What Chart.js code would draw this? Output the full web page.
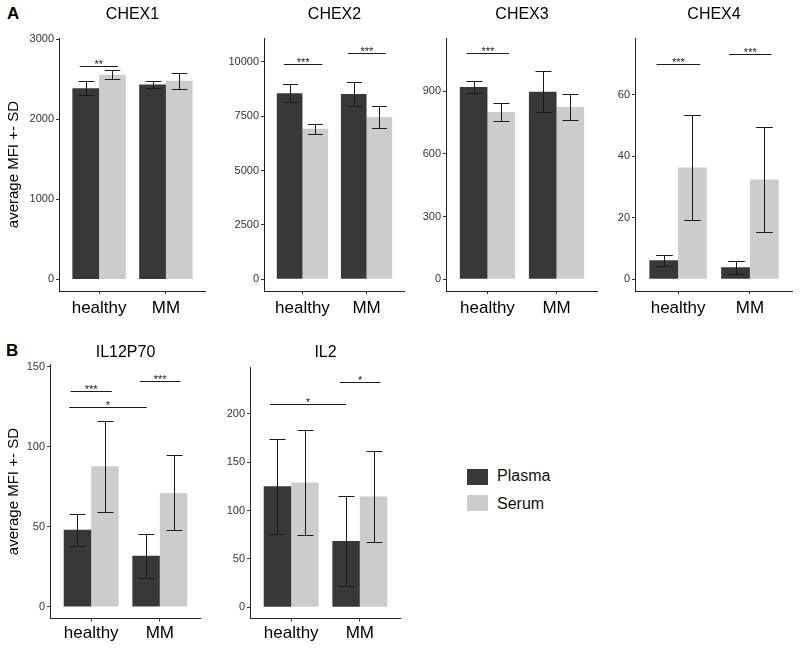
<!DOCTYPE html>
<html>
<head>
<meta charset="utf-8">
<script src="https://cdn.jsdelivr.net/npm/chart.js@4.4.1/dist/chart.umd.min.js"></script>
<style>
  body { margin: 0; background: #fff; width: 800px; height: 649px; position: relative; overflow: hidden;
         font-family: 'Liberation Sans', Arial, sans-serif; }
  canvas { position: absolute; }
  .tag { position: absolute; font-weight: bold; font-size: 17px; line-height: 17px; color: #000; }
  .key { position: absolute; width: 21px; height: 16px; }
  .lab { position: absolute; font-size: 16px; line-height: 16px; color: #111; }
</style>
</head>
<body>
<div class="tag" style="left:7px;top:5px">A</div>
<div class="tag" style="left:6px;top:342px">B</div>

<canvas id="chex1"></canvas>
<canvas id="chex2"></canvas>
<canvas id="chex3"></canvas>
<canvas id="chex4"></canvas>
<canvas id="il12p70"></canvas>
<canvas id="il2"></canvas>

<div class="key" style="left:467px;top:469px;background:#383838"></div>
<div class="lab" style="left:497px;top:468px">Plasma</div>
<div class="key" style="left:467px;top:495px;background:#cccccc"></div>
<div class="lab" style="left:497px;top:496px">Serum</div>

<script>
"use strict";
Chart.defaults.font.family = "'Liberation Sans', Arial, sans-serif";

var groups = ["healthy", "MM"];
var seriesNames = ["Plasma", "Serum"];
var yTitle = "average MFI +- SD";

/*  CHEX1  */
var chex1Plasma = [2390, 2435];
var chex1PlasmaSd = [90, 43];
var chex1Serum = [2558, 2481];
var chex1SerumSd = [56, 104];
var chex1Ticks = [0, 1000, 2000, 3000];
var chex1Sig = [{ x1: -0.29, x2: 0.28, y: 2668, label: "**" }];

/*  CHEX2  */
var chex2Plasma = [8560, 8520];
var chex2PlasmaSd = [410, 540];
var chex2Serum = [6930, 7470];
var chex2SerumSd = [230, 490];
var chex2Ticks = [0, 2500, 5000, 7500, 10000];
var chex2Sig = [{ x1: -0.29, x2: 0.31, y: 9918, label: "***" },
                { x1: 0.71, x2: 1.3, y: 10388, label: "***" }];

/*  CHEX3  */
var chex3Plasma = [920, 897];
var chex3PlasmaSd = [27, 97];
var chex3Serum = [800, 824];
var chex3SerumSd = [43, 62];
var chex3Ticks = [0, 300, 600, 900];
var chex3Sig = [{ x1: -0.3, x2: 0.31, y: 1081, label: "***" }];

/*  CHEX4  */
var chex4Plasma = [6.2, 3.9];
var chex4PlasmaSd = [1.8, 2.1];
var chex4Serum = [36.3, 32.4];
var chex4SerumSd = [16.9, 17.0];
var chex4Ticks = [0, 20, 40, 60];
var chex4Sig = [{ x1: -0.3, x2: 0.31, y: 69.9, label: "***" },
                { x1: 0.71, x2: 1.3, y: 73.2, label: "***" }];

/*  IL12P70  */
var il12Plasma = [48.3, 32];
var il12PlasmaSd = [10.1, 13.7];
var il12Serum = [88, 71.3];
var il12SerumSd = [28.5, 23.4];
var il12Ticks = [0, 50, 100, 150];
var il12Sig = [{ x1: -0.3, x2: 0.3, y: 134.8, label: "***" },
               { x1: -0.32, x2: 0.81, y: 124.8, label: "*" },
               { x1: 0.71, x2: 1.3, y: 141, label: "***" }];

/*  IL2  */
var il2Plasma = [125, 68.5];
var il2PlasmaSd = [49, 46];
var il2Serum = [129, 114.4];
var il2SerumSd = [54, 46.6];
var il2Ticks = [0, 50, 100, 150, 200];
var il2Sig = [{ x1: -0.31, x2: 0.8, y: 210.3, label: "*" },
              { x1: 0.71, x2: 1.3, y: 232.3, label: "*" }];

var plasmaColor = "#383838";
var serumColor = "#cccccc";
var lineColor = "#1a1a1a";

// error bars (mean +- sd) on every bar
var errorBars = {
  id: "errorBars",
  afterDatasetsDraw: function (chart) {
    var ctx = chart.ctx, y = chart.scales.y;
    ctx.save();
    ctx.strokeStyle = lineColor;
    ctx.lineWidth = 1;
    chart.data.datasets.forEach(function (ds, i) {
      chart.getDatasetMeta(i).data.forEach(function (bar, j) {
        var m = ds.data[j].y, s = ds.sd[j];
        var top = Math.round(y.getPixelForValue(m + s)) + 0.5;
        var bot = Math.round(y.getPixelForValue(m - s)) + 0.5;
        var cx = Math.round(bar.x) + 0.5;
        var half = bar.width * 0.29;
        ctx.beginPath();
        ctx.moveTo(cx, top); ctx.lineTo(cx, bot);
        ctx.moveTo(cx - half, top); ctx.lineTo(cx + half, top);
        ctx.moveTo(cx - half, bot); ctx.lineTo(cx + half, bot);
        ctx.stroke();
      });
    });
    ctx.restore();
  }
};

// significance lines with stars
var sigBars = {
  id: "sigBars",
  afterDatasetsDraw: function (chart, args, opts) {
    var ctx = chart.ctx, x = chart.scales.x, y = chart.scales.y;
    ctx.save();
    ctx.strokeStyle = lineColor;
    ctx.fillStyle = lineColor;
    ctx.lineWidth = 1;
    ctx.font = "11px 'Liberation Sans', Arial, sans-serif";
    ctx.textAlign = "center";
    ctx.textBaseline = "alphabetic";
    (opts.items || []).forEach(function (b) {
      var x1 = x.getPixelForValue(b.x1), x2 = x.getPixelForValue(b.x2);
      var yy = Math.round(y.getPixelForValue(b.y)) + 0.5;
      ctx.beginPath();
      ctx.moveTo(x1, yy); ctx.lineTo(x2, yy);
      ctx.stroke();
      ctx.fillText(b.label, (x1 + x2) / 2, yy + 1);
    });
    ctx.restore();
  }
};

function makePanel(id, f, p) {
  var cv = document.getElementById(id);
  var w = f.plotRight - f.left, h = f.height;
  cv.width = w; cv.height = h;
  cv.style.left = f.left + "px"; cv.style.top = f.top + "px";
  cv.style.width = w + "px"; cv.style.height = h + "px";
  var tPadTop = f.titleY - f.top - 9;
  var tPadBottom = f.plotTop - f.top - 18 - tPadTop;
  var axisGrid = { display: true, drawOnChartArea: false, drawTicks: true, tickLength: 3, color: "#333", offset: false };
  var axisBorder = { display: true, color: "#222", width: 1 };

  return new Chart(cv, {
    type: "bar",
    data: {
      datasets: [{
        label: seriesNames[0],
        data: groups.map(function (g, i) { return { x: i, y: p.plasma[i] }; }),
        sd: p.plasmaSd,
        backgroundColor: plasmaColor,
        borderWidth: 0,
        categoryPercentage: 0.8,
        barPercentage: 1
      }, {
        label: seriesNames[1],
        data: groups.map(function (g, i) { return { x: i, y: p.serum[i] }; }),
        sd: p.serumSd,
        backgroundColor: serumColor,
        borderWidth: 0,
        categoryPercentage: 0.8,
        barPercentage: 1
      }]
    },
    options: {
      responsive: false,
      animation: false,
      devicePixelRatio: 1,
      layout: { padding: 0 },
      plugins: {
        legend: { display: false },
        tooltip: { enabled: false },
        title: {
          display: true, text: p.title, fullSize: false, color: "#000",
          font: { size: 16, weight: "normal" },
          padding: { top: tPadTop, bottom: tPadBottom }
        },
        sigBars: { items: p.sig }
      },
      scales: {
        x: {
          type: "linear", min: -0.6, max: 1.6, offset: false,
          afterBuildTicks: function (s) { s.ticks = groups.map(function (g, i) { return { value: i }; }); },
          afterFit: function (s) { s.height = f.top + f.height - f.plotBottom; },
          ticks: {
            callback: function (v) { return groups[v]; },
            color: "#000", font: { size: 17 }, padding: f.xPad, autoSkip: false, maxRotation: 0
          },
          grid: axisGrid,
          border: axisBorder
        },
        y: {
          min: p.yMin, max: p.yMax,
          afterBuildTicks: function (s) { s.ticks = p.yTicks.map(function (v) { return { value: v }; }); },
          afterFit: function (s) { s.width = f.plotLeft - f.left; },
          ticks: {
            callback: function (v) { return String(v); },
            color: "#333", font: { size: 11 }, padding: 2
          },
          grid: axisGrid,
          border: axisBorder,
          title: p.yTitle
            ? { display: true, text: p.yTitle, color: "#000", font: { size: 15 }, padding: { top: 5, bottom: 0 } }
            : { display: false }
        }
      }
    },
    plugins: [errorBars, sigBars]
  });
}

/*  1.  panel A  */
makePanel("chex1",
  { left: 0, top: 0, height: 325, plotLeft: 59, plotRight: 206, plotTop: 37, plotBottom: 291, titleY: 14, xPad: 4 },
  { title: "CHEX1", plasma: chex1Plasma, plasmaSd: chex1PlasmaSd, serum: chex1Serum, serumSd: chex1SerumSd,
    yTicks: chex1Ticks, yMin: -145, yMax: 3014, sig: chex1Sig, yTitle: yTitle });

makePanel("chex2",
  { left: 224, top: 0, height: 325, plotLeft: 264, plotRight: 405, plotTop: 37, plotBottom: 291, titleY: 14, xPad: 4 },
  { title: "CHEX2", plasma: chex2Plasma, plasmaSd: chex2PlasmaSd, serum: chex2Serum, serumSd: chex2SerumSd,
    yTicks: chex2Ticks, yMin: -535, yMax: 11088, sig: chex2Sig });

makePanel("chex3",
  { left: 406, top: 0, height: 325, plotLeft: 446, plotRight: 598, plotTop: 37, plotBottom: 291, titleY: 14, xPad: 4 },
  { title: "CHEX3", plasma: chex3Plasma, plasmaSd: chex3PlasmaSd, serum: chex3Serum, serumSd: chex3SerumSd,
    yTicks: chex3Ticks, yMin: -56, yMax: 1153, sig: chex3Sig });

makePanel("chex4",
  { left: 599, top: 0, height: 325, plotLeft: 635, plotRight: 793, plotTop: 37, plotBottom: 291, titleY: 14, xPad: 4 },
  { title: "CHEX4", plasma: chex4Plasma, plasmaSd: chex4PlasmaSd, serum: chex4Serum, serumSd: chex4SerumSd,
    yTicks: chex4Ticks, yMin: -3.8, yMax: 78.3, sig: chex4Sig });

/*  2.  panel B  */
makePanel("il12p70",
  { left: 0, top: 325, height: 324, plotLeft: 50, plotRight: 201, plotTop: 363.5, plotBottom: 618.5, titleY: 351.7, xPad: 2 },
  { title: "IL12P70", plasma: il12Plasma, plasmaSd: il12PlasmaSd, serum: il12Serum, serumSd: il12SerumSd,
    yTicks: il12Ticks, yMin: -7.2, yMax: 151.4, sig: il12Sig, yTitle: yTitle });

makePanel("il2",
  { left: 210, top: 325, height: 324, plotLeft: 250, plotRight: 401, plotTop: 366, plotBottom: 618.5, titleY: 351.7, xPad: 2 },
  { title: "IL2", plasma: il2Plasma, plasmaSd: il2PlasmaSd, serum: il2Serum, serumSd: il2SerumSd,
    yTicks: il2Ticks, yMin: -11.5, yMax: 248, sig: il2Sig });
</script>
</body>
</html>
